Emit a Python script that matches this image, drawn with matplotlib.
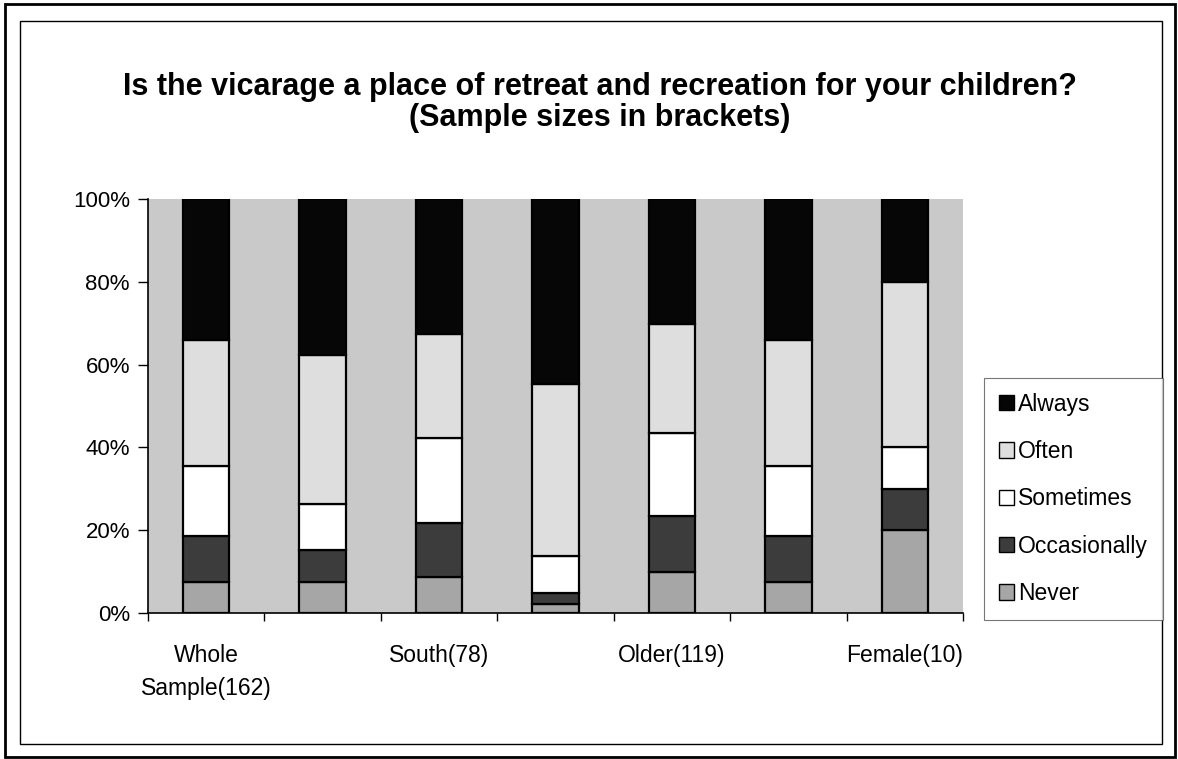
import numpy as np
import matplotlib.pyplot as plt
from matplotlib.patches import Rectangle

plt.rcParams['font.family'] = ['Liberation Sans', 'DejaVu Sans']

# groups (only every other label is printed on the original chart)
labels = ['Whole\nSample(162)', '', 'South(78)', '', 'Older(119)', '', 'Female(10)']

# percentage of answers, bottom to top of each bar
never        = [7.4, 7.4, 8.6, 2.2, 9.8, 7.4, 20.0]
occasionally = [11.1, 7.7, 13.2, 2.6, 13.6, 11.1, 10.0]
sometimes    = [16.9, 11.3, 20.5, 9.0, 20.0, 16.9, 10.0]
often        = [30.6, 35.9, 25.0, 41.4, 26.4, 30.6, 40.0]
always       = [34.0, 37.7, 32.7, 44.8, 30.2, 34.0, 20.0]

series = [('Never', never, '#a6a6a6'),
          ('Occasionally', occasionally, '#3c3c3c'),
          ('Sometimes', sometimes, '#ffffff'),
          ('Often', often, '#dedede'),
          ('Always', always, '#060606')]

fig = plt.figure(figsize=(11.78, 7.59), dpi=100)
ax = fig.add_axes([0.1256, 0.1924, 0.6919, 0.5454])
ax.set_facecolor('#c9c9c9')

x = np.arange(len(labels))
bottom = np.zeros(len(labels))
handles = {}
for name, vals, col in series:
    vals = np.array(vals)
    b = ax.bar(x, vals, 0.4, bottom=bottom, color=col, edgecolor='black', linewidth=1.6, label=name)
    handles[name] = b
    bottom += vals

ax.set_xlim(-0.5, len(labels) - 0.5)
ax.set_ylim(0, 100)
ax.set_yticks(np.arange(0, 101, 20))
ax.set_yticklabels(['%d%%' % v for v in range(0, 101, 20)], fontsize=16)
ax.set_xticks(x)
ax.set_xticklabels(labels, fontsize=16.5, linespacing=1.6, va='top')
ax.set_xticks(np.arange(-0.5, len(labels), 1.0), minor=True)
ax.tick_params(axis='x', which='major', length=0, pad=22)
ax.tick_params(axis='x', which='minor', length=6, direction='out', width=1)
ax.tick_params(axis='y', length=7, direction='out', width=1, pad=6)
for s in ['top', 'right']:
    ax.spines[s].set_visible(False)
for s in ['left', 'bottom']:
    ax.spines[s].set_linewidth(1.2)

order = ['Always', 'Often', 'Sometimes', 'Occasionally', 'Never']
leg = fig.legend([handles[n] for n in order], order, loc='upper left',
                 bbox_to_anchor=(0.8353, 0.502), bbox_transform=fig.transFigure,
                 fontsize=16.5, frameon=True, fancybox=False, edgecolor='#555555',
                 labelspacing=1.06, handlelength=0.65, handleheight=0.65,
                 handletextpad=0.2, borderpad=0.65, borderaxespad=0)
leg.get_frame().set_linewidth(0.8)
for h in leg.legend_handles:
    h.set_linewidth(1.0)

fig.text(0.509, 0.886, 'Is the vicarage a place of retreat and recreation for your children?',
         ha='center', va='center', fontsize=22, fontweight='bold')
fig.text(0.509, 0.845, '(Sample sizes in brackets)',
         ha='center', va='center', fontsize=22, fontweight='bold')

# chart area frames
fig.patches.append(Rectangle((5 / 1178, 2 / 759), 1170 / 1178, 753 / 759, transform=fig.transFigure,
                             fill=False, edgecolor='black', linewidth=2))
fig.patches.append(Rectangle((20 / 1178, 15 / 759), 1142 / 1178, 723 / 759, transform=fig.transFigure,
                             fill=False, edgecolor='black', linewidth=1))

fig.savefig('out.png', dpi=100)
